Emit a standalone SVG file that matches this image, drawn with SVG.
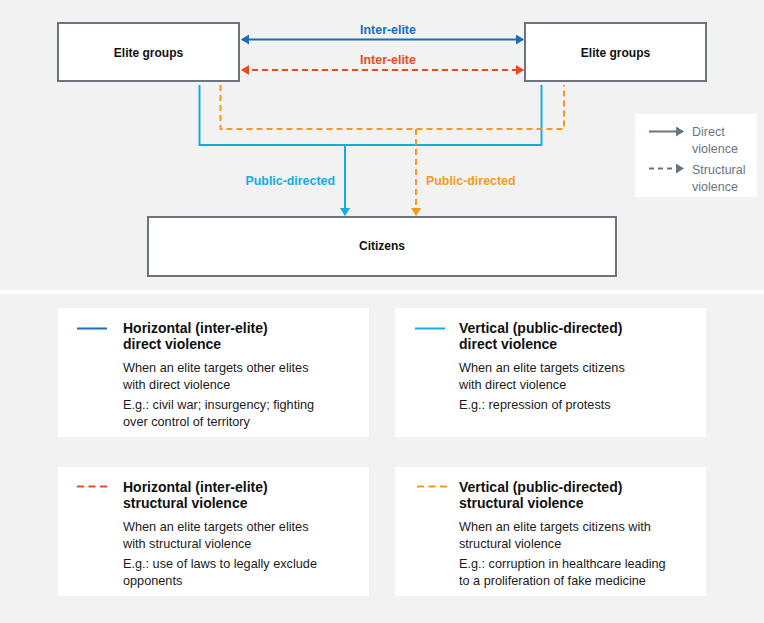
<svg xmlns="http://www.w3.org/2000/svg" width="764" height="623" viewBox="0 0 764 623">
<style>
.bg{fill:#f2f2f2}
.node{fill:#fff;stroke:#6b7480;stroke-width:2}
.nt{font-family:"Liberation Sans",Arial,sans-serif;font-weight:bold;font-size:12px;fill:#111;text-anchor:middle}
.lbl{font-family:"Liberation Sans",Arial,sans-serif;font-weight:bold;font-size:12.4px}
.card{fill:#fff}
.ct{font-family:"Liberation Sans",Arial,sans-serif;font-weight:bold;font-size:14px;fill:#111}
.cb{font-family:"Liberation Sans",Arial,sans-serif;font-size:12.7px;fill:#1a1a1a}
.lg{font-family:"Liberation Sans",Arial,sans-serif;font-size:12.5px;fill:#6b7480}
.dash{stroke-dasharray:6 4}
</style>
<defs>
<marker id="mBlue" markerWidth="8" markerHeight="10" refX="7" refY="5" orient="auto-start-reverse" markerUnits="userSpaceOnUse"><path d="M0,0 L8,5 L0,10 Z" fill="#1b6db6"/></marker>
<marker id="mRed" markerWidth="8" markerHeight="10" refX="7" refY="5" orient="auto-start-reverse" markerUnits="userSpaceOnUse"><path d="M0,0 L8,5 L0,10 Z" fill="#e84a1d"/></marker>
<marker id="mCyan" markerWidth="8" markerHeight="10" refX="7" refY="5" orient="auto" markerUnits="userSpaceOnUse"><path d="M0,0 L8,5 L0,10 Z" fill="#14addf"/></marker>
<marker id="mOrange" markerWidth="8" markerHeight="10" refX="7" refY="5" orient="auto" markerUnits="userSpaceOnUse"><path d="M0,0 L8,5 L0,10 Z" fill="#f39a1c"/></marker>
<marker id="mGray" markerWidth="8" markerHeight="10" refX="7" refY="5" orient="auto" markerUnits="userSpaceOnUse"><path d="M0,0 L8,5 L0,10 Z" fill="#6b7480"/></marker>
</defs>
<rect class="bg" x="0" y="0" width="764" height="623"/>
<rect x="0" y="290" width="764" height="4" fill="#fff"/>

<g id="connectors" fill="none" stroke-width="2">
<line x1="242" y1="39.5" x2="523" y2="39.5" stroke="#1b6db6" marker-start="url(#mBlue)" marker-end="url(#mBlue)"/>
<line class="dash" x1="242" y1="70" x2="523" y2="70" stroke="#e84a1d" marker-start="url(#mRed)" marker-end="url(#mRed)"/>
<polyline points="199.5,85 199.5,145 541.5,145 541.5,85" stroke="#14addf"/>
<line x1="345" y1="145" x2="345" y2="215" stroke="#14addf" marker-end="url(#mCyan)"/>
<polyline class="dash" points="220.5,85 220.5,129 564,129 564,85" stroke="#f39a1c"/>
<line class="dash" x1="416" y1="129" x2="416" y2="215" stroke="#f39a1c" marker-end="url(#mOrange)"/>
<text class="lbl" x="388" y="34" fill="#1b6db6" text-anchor="middle">Inter-elite</text>
<text class="lbl" x="388" y="64" fill="#e84a1d" text-anchor="middle">Inter-elite</text>
<text class="lbl" x="335" y="185" fill="#14addf" text-anchor="end">Public-directed</text>
<text class="lbl" x="426" y="185" fill="#f39a1c">Public-directed</text>
</g>

<g id="elite-left">
<rect class="node" x="58" y="23" width="181" height="58"/>
<text class="nt" x="148.5" y="56.5">Elite groups</text>
</g>
<g id="elite-right">
<rect class="node" x="525" y="23" width="181" height="58"/>
<text class="nt" x="615.5" y="56.5">Elite groups</text>
</g>
<g id="citizens">
<rect class="node" x="148" y="217" width="468" height="59"/>
<text class="nt" x="382" y="250">Citizens</text>
</g>

<g id="legend">
<rect x="635" y="114" width="122" height="83" fill="#fff"/>
<line x1="649" y1="131.5" x2="683" y2="131.5" stroke="#6b7480" stroke-width="2" marker-end="url(#mGray)"/>
<text class="lg" x="692" y="136">Direct</text>
<text class="lg" x="692" y="153">violence</text>
<line x1="649" y1="168.5" x2="683" y2="168.5" stroke="#6b7480" stroke-width="2" stroke-dasharray="5 4" marker-end="url(#mGray)"/>
<text class="lg" x="692" y="174">Structural</text>
<text class="lg" x="692" y="191">violence</text>
</g>

<g id="card-horizontal-direct">
<rect class="card" x="58" y="308" width="311" height="129"/>
<line x1="77" y1="328.5" x2="107" y2="328.5" stroke="#1b6db6" stroke-width="2"/>
<text class="ct" x="123" y="333">Horizontal (inter-elite)</text>
<text class="ct" x="123" y="349">direct violence</text>
<text class="cb" x="123" y="372">When an elite targets other elites</text>
<text class="cb" x="123" y="389">with direct violence</text>
<text class="cb" x="123" y="409">E.g.: civil war; insurgency; fighting</text>
<text class="cb" x="123" y="426">over control of territory</text>
</g>
<g id="card-vertical-direct">
<rect class="card" x="395" y="308" width="311" height="129"/>
<line x1="415" y1="328.5" x2="445" y2="328.5" stroke="#14addf" stroke-width="2"/>
<text class="ct" x="459" y="333">Vertical (public-directed)</text>
<text class="ct" x="459" y="349">direct violence</text>
<text class="cb" x="459" y="372">When an elite targets citizens</text>
<text class="cb" x="459" y="389">with direct violence</text>
<text class="cb" x="459" y="409">E.g.: repression of protests</text>
</g>
<g id="card-horizontal-structural">
<rect class="card" x="58" y="467" width="311" height="129"/>
<line x1="77" y1="486.5" x2="107" y2="486.5" stroke="#e84a1d" stroke-width="2" stroke-dasharray="7 4.5"/>
<text class="ct" x="123" y="491.5">Horizontal (inter-elite)</text>
<text class="ct" x="123" y="508">structural violence</text>
<text class="cb" x="123" y="531">When an elite targets other elites</text>
<text class="cb" x="123" y="548">with structural violence</text>
<text class="cb" x="123" y="568">E.g.: use of laws to legally exclude</text>
<text class="cb" x="123" y="585">opponents</text>
</g>
<g id="card-vertical-structural">
<rect class="card" x="395" y="467" width="311" height="129"/>
<line x1="417" y1="486.5" x2="447" y2="486.5" stroke="#f39a1c" stroke-width="2" stroke-dasharray="7 4.5"/>
<text class="ct" x="459" y="491.5">Vertical (public-directed)</text>
<text class="ct" x="459" y="508">structural violence</text>
<text class="cb" x="459" y="531">When an elite targets citizens with</text>
<text class="cb" x="459" y="548">structural violence</text>
<text class="cb" x="459" y="568">E.g.: corruption in healthcare leading</text>
<text class="cb" x="459" y="585">to a proliferation of fake medicine</text>
</g>
</svg>
